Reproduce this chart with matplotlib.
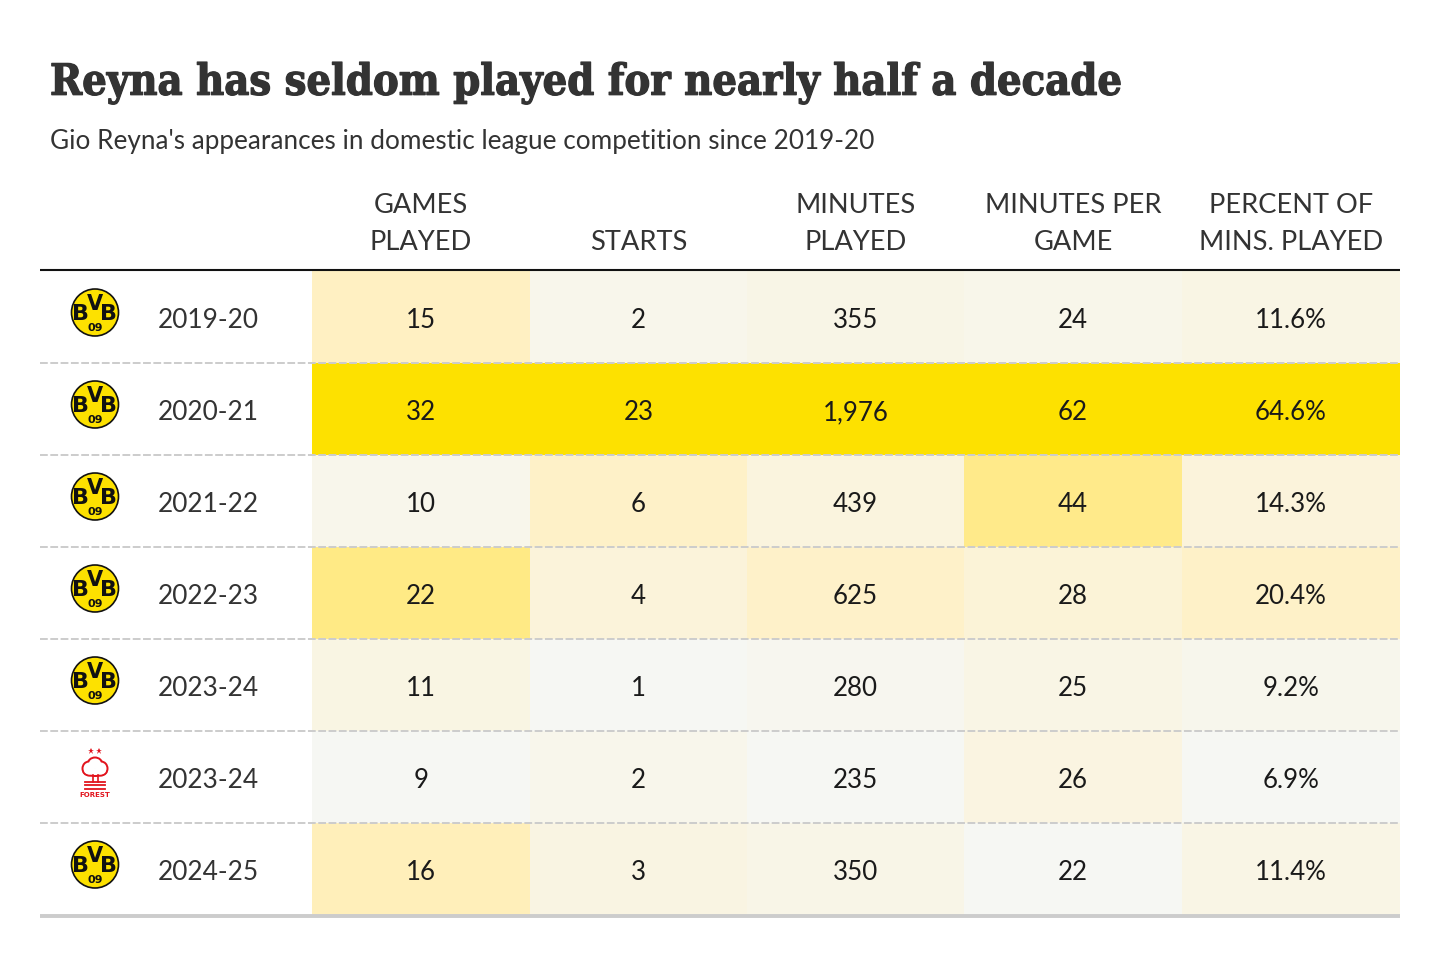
import matplotlib
matplotlib.use("Agg")
import matplotlib.pyplot as plt
import matplotlib.patheffects as pe
import numpy as np
from matplotlib.colors import LinearSegmentedColormap
from matplotlib.patches import Circle, Ellipse, Rectangle

seasons = ["2019-20", "2020-21", "2021-22", "2022-23", "2023-24", "2023-24", "2024-25"]
clubs = ["bvb", "bvb", "bvb", "bvb", "bvb", "forest", "bvb"]
headers = ["GAMES\nPLAYED", "STARTS", "MINUTES\nPLAYED", "MINUTES PER\nGAME", "PERCENT OF\nMINS. PLAYED"]

games = [15, 32, 10, 22, 11, 9, 16]
starts = [2, 23, 6, 4, 1, 2, 3]
minutes = [355, 1976, 439, 625, 280, 235, 350]
per_game = [24, 62, 44, 28, 25, 26, 22]
percent = [11.6, 64.6, 14.3, 20.4, 9.2, 6.9, 11.4]

TITLE = "Reyna has seldom played for nearly half a decade"
SUBTITLE = "Gio Reyna's appearances in domestic league competition since 2019-20"

INK = "#333333"
BODY = "Lato"
LOGO_FONT = ["Liberation Sans Narrow", "DejaVu Sans"]

col_edges = [312, 530, 747, 964, 1182, 1400]
row_top = 271.5
row_h = 92

cmap = LinearSegmentedColormap.from_list(
    "heat", [(0, "#f6f7f3"), (0.25, "#fff0c4"), (0.55, "#ffea8a"), (1, "#fde100")])

fig = plt.figure(figsize=(14.4, 9.54), dpi=100)
ax = fig.add_axes([0, 0, 1, 1])
ax.set_xlim(0, 1440)
ax.set_ylim(954, 0)
ax.axis("off")


def draw_bvb(cx, cy):
    ax.add_patch(Circle((cx, cy), 23.5, fc="#fde100", ec="#111111", lw=1.2, zorder=3))
    for dx in [-14, 14]:
        ax.text(cx + dx, cy + 1, "B", ha="center", va="center", fontsize=16, fontweight="bold",
                family=LOGO_FONT, color="#111111", zorder=4)
    ax.text(cx, cy - 9, "V", ha="center", va="center", fontsize=15, fontweight="bold",
            family=LOGO_FONT, color="#111111", zorder=4)
    ax.text(cx, cy + 14.5, "09", ha="center", va="center", fontsize=8, fontweight="bold",
            family=LOGO_FONT, color="#111111", zorder=4)


def draw_forest(cx, cy):
    red = "#e2141d"
    ax.plot([cx - 4, cx + 4], [cy - 27, cy - 27], ls="none", marker="*", ms=5, mew=0, color=red, zorder=4)
    # tree crown: red lobes with white lobes on top
    lobes = [(-6, -9, 11, 12), (6, -9, 11, 12), (0, -14, 12, 10), (0, -6, 21, 7)]
    for dx, dy, w, h in lobes:
        ax.add_patch(Ellipse((cx + dx, cy + dy), w + 4, h + 4, fc=red, ec="none", zorder=3))
    for dx, dy, w, h in lobes:
        ax.add_patch(Ellipse((cx + dx, cy + dy), w, h, fc="white", ec="none", zorder=3.1))
    ax.plot([cx - 2.5, cx - 2.5], [cy - 3, cy + 4], color=red, lw=1.2, zorder=4)
    ax.plot([cx + 2.5, cx + 2.5], [cy - 3, cy + 4], color=red, lw=1.2, zorder=4)
    for dy in [4, 7.5, 11]:
        ax.plot([cx - 10, cx + 10], [cy + dy, cy + dy], color=red, lw=1.3, zorder=4)
    ax.text(cx, cy + 17, "FOREST", ha="center", va="center", fontsize=5, fontweight="bold",
            family=LOGO_FONT, color=red, zorder=4)


title = ax.text(50, 84, TITLE, ha="left", va="center", fontsize=31, fontweight="bold",
                family="DejaVu Serif", stretch="condensed", color=INK)
title.set_path_effects([pe.withStroke(linewidth=0.9, foreground=INK)])
ax.text(50, 142, SUBTITLE, ha="left", va="center", fontsize=18.8, family=BODY, color=INK)

columns = [games, starts, minutes, per_game, percent]
labels = [str, str, lambda v: f"{v:,}", str, lambda v: f"{v}%"]

for c, (values, fmt) in enumerate(zip(columns, labels)):
    x0, x1 = col_edges[c], col_edges[c + 1]
    xc = (x0 + x1) / 2
    vals = np.array(values, dtype=float)
    norm = (vals - vals.min()) / (vals.max() - vals.min())
    for r, v in enumerate(values):
        y0 = row_top + r * row_h
        ax.add_patch(Rectangle((x0, y0), x1 - x0, row_h, fc=cmap(norm[r]), ec="none", zorder=1))
        ax.text(xc, y0 + row_h / 2 + 3, fmt(v), ha="center", va="center", fontsize=18.6,
                family=BODY, color="#1a1a1a", zorder=5)
    ax.text(xc, 255, headers[c], ha="center", va="bottom", fontsize=19.6, family=BODY,
            color=INK, linespacing=1.62, zorder=5)

for r, (season, club) in enumerate(zip(seasons, clubs)):
    yc = row_top + r * row_h + row_h / 2
    ax.text(158, yc + 3, season, ha="left", va="center", fontsize=18.9, family=BODY, color=INK, zorder=5)
    if club == "bvb":
        draw_bvb(95, yc - 4)
    else:
        draw_forest(95, yc + 1)
    if r > 0:
        ax.plot([40, 1400], [row_top + r * row_h] * 2, color="#cccccc", lw=1.4,
                dashes=(4, 1.3), zorder=2)

ax.plot([40, 1400], [row_top - 0.5, row_top - 0.5], color="#111111", lw=1.5, zorder=2, solid_capstyle="butt")
ax.plot([40, 1400], [row_top + 7 * row_h + 1] * 2, color="#cccccc", lw=2.8, zorder=2, solid_capstyle="butt")

fig.savefig("out.png", dpi=100, facecolor="white")
